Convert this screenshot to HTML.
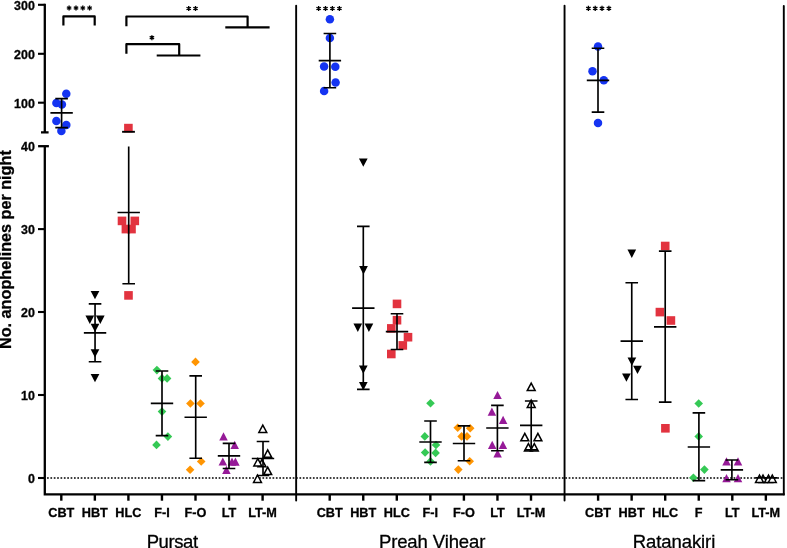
<!DOCTYPE html>
<html><head><meta charset="utf-8"><style>
html,body{margin:0;padding:0;background:#fff;}
body{width:787px;height:548px;overflow:hidden;}
svg{display:block;}
</style></head><body>
<svg width="787" height="548" viewBox="0 0 787 548">
<rect width="787" height="548" fill="#fff"/>
<path d="M44.8 3.8 V132.4 M41 132.4 H48.6" stroke="#000" stroke-width="2.3" fill="none"/>
<path d="M38 4.8 H44.8" stroke="#000" stroke-width="2.1"/>
<path d="M38 53.8 H44.8" stroke="#000" stroke-width="2.1"/>
<path d="M38 102.7 H44.8" stroke="#000" stroke-width="2.1"/>
<path d="M44.8 146.2 V494.4 H784.7" stroke="#000" stroke-width="2.3" fill="none" stroke-linejoin="miter"/>
<path d="M38.1 146.2 H48.9" stroke="#000" stroke-width="2.3"/>
<path d="M38 229.1 H44.8" stroke="#000" stroke-width="2.1"/>
<path d="M38 312.0 H44.8" stroke="#000" stroke-width="2.1"/>
<path d="M38 395.0 H44.8" stroke="#000" stroke-width="2.1"/>
<path d="M38 478.0 H44.8" stroke="#000" stroke-width="2.1"/>
<path d="M783.8 6 V494.4" stroke="#000" stroke-width="1.9" stroke-linecap="round"/>
<path d="M296.15 5.8 V500.6" stroke="#000" stroke-width="1.9" stroke-linecap="round"/>
<path d="M564.55 5.8 V500.6" stroke="#000" stroke-width="1.9" stroke-linecap="round"/>
<path d="M61.3 494.4 V500.7" stroke="#000" stroke-width="2.4"/>
<path d="M94.85 494.4 V500.7" stroke="#000" stroke-width="2.4"/>
<path d="M128.4 494.4 V500.7" stroke="#000" stroke-width="2.4"/>
<path d="M161.95 494.4 V500.7" stroke="#000" stroke-width="2.4"/>
<path d="M195.5 494.4 V500.7" stroke="#000" stroke-width="2.4"/>
<path d="M229.05 494.4 V500.7" stroke="#000" stroke-width="2.4"/>
<path d="M262.6 494.4 V500.7" stroke="#000" stroke-width="2.4"/>
<path d="M329.7 494.4 V500.7" stroke="#000" stroke-width="2.4"/>
<path d="M363.25 494.4 V500.7" stroke="#000" stroke-width="2.4"/>
<path d="M396.8 494.4 V500.7" stroke="#000" stroke-width="2.4"/>
<path d="M430.35 494.4 V500.7" stroke="#000" stroke-width="2.4"/>
<path d="M463.9 494.4 V500.7" stroke="#000" stroke-width="2.4"/>
<path d="M497.45 494.4 V500.7" stroke="#000" stroke-width="2.4"/>
<path d="M531.0 494.4 V500.7" stroke="#000" stroke-width="2.4"/>
<path d="M598.1 494.4 V500.7" stroke="#000" stroke-width="2.4"/>
<path d="M631.65 494.4 V500.7" stroke="#000" stroke-width="2.4"/>
<path d="M665.2 494.4 V500.7" stroke="#000" stroke-width="2.4"/>
<path d="M698.75 494.4 V500.7" stroke="#000" stroke-width="2.4"/>
<path d="M732.3 494.4 V500.7" stroke="#000" stroke-width="2.4"/>
<path d="M765.85 494.4 V500.7" stroke="#000" stroke-width="2.4"/>
<path d="M47.05 478 H782.5" stroke="#000" stroke-width="1.7" stroke-dasharray="1.7 1.6653"/>
<defs><filter id="gf" x="0" y="0" width="1" height="1"><feOffset dx="0" dy="0"/></filter></defs><g filter="url(#gf)" stroke="#000" stroke-width="0.3">
<text x="34.8" y="9.75" font-family="Liberation Sans, sans-serif" font-weight="bold" font-size="12.4" text-anchor="end">300</text>
<text x="34.8" y="58.75" font-family="Liberation Sans, sans-serif" font-weight="bold" font-size="12.4" text-anchor="end">200</text>
<text x="34.8" y="107.65" font-family="Liberation Sans, sans-serif" font-weight="bold" font-size="12.4" text-anchor="end">100</text>
<text x="34.8" y="151.15" font-family="Liberation Sans, sans-serif" font-weight="bold" font-size="12.4" text-anchor="end">40</text>
<text x="34.8" y="234.05" font-family="Liberation Sans, sans-serif" font-weight="bold" font-size="12.4" text-anchor="end">30</text>
<text x="34.8" y="316.95" font-family="Liberation Sans, sans-serif" font-weight="bold" font-size="12.4" text-anchor="end">20</text>
<text x="34.8" y="399.95" font-family="Liberation Sans, sans-serif" font-weight="bold" font-size="12.4" text-anchor="end">10</text>
<text x="34.8" y="482.95" font-family="Liberation Sans, sans-serif" font-weight="bold" font-size="12.4" text-anchor="end">0</text>
<text x="61.3" y="516.6" font-family="Liberation Sans, sans-serif" font-weight="bold" font-size="12.7" text-anchor="middle">CBT</text>
<text x="94.85" y="516.6" font-family="Liberation Sans, sans-serif" font-weight="bold" font-size="12.7" text-anchor="middle">HBT</text>
<text x="128.4" y="516.6" font-family="Liberation Sans, sans-serif" font-weight="bold" font-size="12.7" text-anchor="middle">HLC</text>
<text x="161.95" y="516.6" font-family="Liberation Sans, sans-serif" font-weight="bold" font-size="12.7" text-anchor="middle">F-I</text>
<text x="195.5" y="516.6" font-family="Liberation Sans, sans-serif" font-weight="bold" font-size="12.7" text-anchor="middle">F-O</text>
<text x="229.05" y="516.6" font-family="Liberation Sans, sans-serif" font-weight="bold" font-size="12.7" text-anchor="middle">LT</text>
<text x="262.6" y="516.6" font-family="Liberation Sans, sans-serif" font-weight="bold" font-size="12.7" text-anchor="middle">LT-M</text>
<text x="329.7" y="516.6" font-family="Liberation Sans, sans-serif" font-weight="bold" font-size="12.7" text-anchor="middle">CBT</text>
<text x="363.25" y="516.6" font-family="Liberation Sans, sans-serif" font-weight="bold" font-size="12.7" text-anchor="middle">HBT</text>
<text x="396.8" y="516.6" font-family="Liberation Sans, sans-serif" font-weight="bold" font-size="12.7" text-anchor="middle">HLC</text>
<text x="430.35" y="516.6" font-family="Liberation Sans, sans-serif" font-weight="bold" font-size="12.7" text-anchor="middle">F-I</text>
<text x="463.9" y="516.6" font-family="Liberation Sans, sans-serif" font-weight="bold" font-size="12.7" text-anchor="middle">F-O</text>
<text x="497.45" y="516.6" font-family="Liberation Sans, sans-serif" font-weight="bold" font-size="12.7" text-anchor="middle">LT</text>
<text x="531.0" y="516.6" font-family="Liberation Sans, sans-serif" font-weight="bold" font-size="12.7" text-anchor="middle">LT-M</text>
<text x="598.1" y="516.6" font-family="Liberation Sans, sans-serif" font-weight="bold" font-size="12.7" text-anchor="middle">CBT</text>
<text x="631.65" y="516.6" font-family="Liberation Sans, sans-serif" font-weight="bold" font-size="12.7" text-anchor="middle">HBT</text>
<text x="665.2" y="516.6" font-family="Liberation Sans, sans-serif" font-weight="bold" font-size="12.7" text-anchor="middle">HLC</text>
<text x="698.75" y="516.6" font-family="Liberation Sans, sans-serif" font-weight="bold" font-size="12.7" text-anchor="middle">F</text>
<text x="732.3" y="516.6" font-family="Liberation Sans, sans-serif" font-weight="bold" font-size="12.7" text-anchor="middle">LT</text>
<text x="765.85" y="516.6" font-family="Liberation Sans, sans-serif" font-weight="bold" font-size="12.7" text-anchor="middle">LT-M</text>
<text x="146.7" y="548.3" font-family="Liberation Sans, sans-serif" font-size="18.5" textLength="51.4" lengthAdjust="spacing">Pursat</text>
<text x="378.9" y="548.3" font-family="Liberation Sans, sans-serif" font-size="18.5" textLength="106.5" lengthAdjust="spacing">Preah Vihear</text>
<text x="632.7" y="548.3" font-family="Liberation Sans, sans-serif" font-size="18.5" textLength="82.6" lengthAdjust="spacing">Ratanakiri</text>
<text transform="translate(11.4 249.6) rotate(-90)" font-family="Liberation Sans, sans-serif" font-weight="bold" font-size="16.2" text-anchor="middle">No. anophelines per night</text>
</g>
<circle cx="66.3" cy="93.7" r="4.25" fill="#1534f2"/>
<circle cx="56.4" cy="103" r="4.25" fill="#1534f2"/>
<circle cx="61.9" cy="104.6" r="4.25" fill="#1534f2"/>
<circle cx="56.4" cy="121" r="4.25" fill="#1534f2"/>
<circle cx="66.3" cy="124.9" r="4.25" fill="#1534f2"/>
<circle cx="61.4" cy="130.9" r="4.25" fill="#1534f2"/>
<path d="M90.65 290.90 H99.35 L95 299.20Z" fill="#000"/>
<path d="M85.45 315.60 H94.15 L89.8 323.90Z" fill="#000"/>
<path d="M95.95 315.60 H104.65 L100.3 323.90Z" fill="#000"/>
<path d="M90.65 323.80 H99.35 L95 332.10Z" fill="#000"/>
<path d="M90.65 349.30 H99.35 L95 357.60Z" fill="#000"/>
<path d="M90.65 373.90 H99.35 L95 382.20Z" fill="#000"/>
<rect x="124.10" y="123.80" width="8.6" height="8.6" fill="#e2333f"/>
<rect x="117.70" y="216.60" width="8.6" height="8.6" fill="#e2333f"/>
<rect x="130.50" y="216.60" width="8.6" height="8.6" fill="#e2333f"/>
<rect x="121.60" y="224.80" width="8.6" height="8.6" fill="#e2333f"/>
<rect x="127.20" y="224.80" width="8.6" height="8.6" fill="#e2333f"/>
<rect x="124.20" y="291.10" width="8.6" height="8.6" fill="#e2333f"/>
<path d="M156.9 365.80 L161.20 370.1 L156.9 374.40 L152.60 370.1Z" fill="#35c955"/>
<path d="M162 374.10 L166.30 378.4 L162 382.70 L157.70 378.4Z" fill="#35c955"/>
<path d="M167.1 374.10 L171.40 378.4 L167.1 382.70 L162.80 378.4Z" fill="#35c955"/>
<path d="M162 407.30 L166.30 411.6 L162 415.90 L157.70 411.6Z" fill="#35c955"/>
<path d="M167.9 432.30 L172.20 436.6 L167.9 440.90 L163.60 436.6Z" fill="#35c955"/>
<path d="M156.5 440.60 L160.80 444.9 L156.5 449.20 L152.20 444.9Z" fill="#35c955"/>
<path d="M195.5 357.60 L199.80 361.9 L195.5 366.20 L191.20 361.9Z" fill="#ff9502"/>
<path d="M190.4 399.20 L194.70 403.5 L190.4 407.80 L186.10 403.5Z" fill="#ff9502"/>
<path d="M200.5 399.20 L204.80 403.5 L200.5 407.80 L196.20 403.5Z" fill="#ff9502"/>
<path d="M201.2 457.20 L205.50 461.5 L201.2 465.80 L196.90 461.5Z" fill="#ff9502"/>
<path d="M190.1 465.40 L194.40 469.7 L190.1 474.00 L185.80 469.7Z" fill="#ff9502"/>
<path d="M223.5 432.30 L227.75 440.50 H219.25Z" fill="#961a98"/>
<path d="M234.7 440.80 L238.95 449.00 H230.45Z" fill="#961a98"/>
<path d="M222.8 457.40 L227.05 465.60 H218.55Z" fill="#961a98"/>
<path d="M232 457.50 L236.25 465.70 H227.75Z" fill="#961a98"/>
<path d="M235.4 457.50 L239.65 465.70 H231.15Z" fill="#961a98"/>
<path d="M226.4 465.80 L230.65 474.00 H222.15Z" fill="#961a98"/>
<path d="M262.8 425.10 L266.75 432.50 H258.85Z" fill="#fff" stroke="#000" stroke-width="1.5" stroke-linejoin="miter"/>
<path d="M267.7 449.90 L271.65 457.30 H263.75Z" fill="#fff" stroke="#000" stroke-width="1.5" stroke-linejoin="miter"/>
<path d="M262 459.40 L265.95 466.80 H258.05Z" fill="#fff" stroke="#000" stroke-width="1.5" stroke-linejoin="miter"/>
<path d="M257.8 458.60 L261.75 466.00 H253.85Z" fill="#fff" stroke="#000" stroke-width="1.5" stroke-linejoin="miter"/>
<path d="M267.7 467.20 L271.65 474.60 H263.75Z" fill="#fff" stroke="#000" stroke-width="1.5" stroke-linejoin="miter"/>
<path d="M257.5 475.00 L261.45 482.40 H253.55Z" fill="#fff" stroke="#000" stroke-width="1.5" stroke-linejoin="miter"/>
<circle cx="329.9" cy="19.2" r="4.25" fill="#1534f2"/>
<circle cx="329.9" cy="38" r="4.25" fill="#1534f2"/>
<circle cx="324.1" cy="66.4" r="4.25" fill="#1534f2"/>
<circle cx="335.3" cy="66.8" r="4.25" fill="#1534f2"/>
<circle cx="335.6" cy="82.5" r="4.25" fill="#1534f2"/>
<circle cx="324.1" cy="91" r="4.25" fill="#1534f2"/>
<path d="M358.95 158.50 H367.65 L363.3 166.80Z" fill="#000"/>
<path d="M359.15 266.10 H367.85 L363.5 274.40Z" fill="#000"/>
<path d="M353.45 323.60 H362.15 L357.8 331.90Z" fill="#000"/>
<path d="M364.55 323.60 H373.25 L368.9 331.90Z" fill="#000"/>
<path d="M358.95 365.50 H367.65 L363.3 373.80Z" fill="#000"/>
<path d="M358.95 381.90 H367.65 L363.3 390.20Z" fill="#000"/>
<rect x="392.70" y="299.60" width="8.6" height="8.6" fill="#e2333f"/>
<rect x="392.70" y="315.90" width="8.6" height="8.6" fill="#e2333f"/>
<rect x="387.00" y="324.10" width="8.6" height="8.6" fill="#e2333f"/>
<rect x="403.70" y="332.90" width="8.6" height="8.6" fill="#e2333f"/>
<rect x="398.50" y="341.10" width="8.6" height="8.6" fill="#e2333f"/>
<rect x="387.00" y="349.70" width="8.6" height="8.6" fill="#e2333f"/>
<path d="M430.5 398.90 L434.80 403.2 L430.5 407.50 L426.20 403.2Z" fill="#35c955"/>
<path d="M424.8 432.10 L429.10 436.4 L424.8 440.70 L420.50 436.4Z" fill="#35c955"/>
<path d="M436 440.70 L440.30 445 L436 449.30 L431.70 445Z" fill="#35c955"/>
<path d="M425.1 448.20 L429.40 452.5 L425.1 456.80 L420.80 452.5Z" fill="#35c955"/>
<path d="M435.6 448.60 L439.90 452.9 L435.6 457.20 L431.30 452.9Z" fill="#35c955"/>
<path d="M430.5 457.10 L434.80 461.4 L430.5 465.70 L426.20 461.4Z" fill="#35c955"/>
<path d="M457.7 423.50 L462.00 427.8 L457.7 432.10 L453.40 427.8Z" fill="#ff9502"/>
<path d="M470.2 424.00 L474.50 428.3 L470.2 432.60 L465.90 428.3Z" fill="#ff9502"/>
<path d="M461.6 432.10 L465.90 436.4 L461.6 440.70 L457.30 436.4Z" fill="#ff9502"/>
<path d="M467 432.10 L471.30 436.4 L467 440.70 L462.70 436.4Z" fill="#ff9502"/>
<path d="M469.7 457.00 L474.00 461.3 L469.7 465.60 L465.40 461.3Z" fill="#ff9502"/>
<path d="M458.3 465.30 L462.60 469.6 L458.3 473.90 L454.00 469.6Z" fill="#ff9502"/>
<path d="M497.5 390.90 L501.75 399.10 H493.25Z" fill="#961a98"/>
<path d="M491.9 407.50 L496.15 415.70 H487.65Z" fill="#961a98"/>
<path d="M503.1 415.80 L507.35 424.00 H498.85Z" fill="#961a98"/>
<path d="M492.2 440.70 L496.45 448.90 H487.95Z" fill="#961a98"/>
<path d="M502.9 440.70 L507.15 448.90 H498.65Z" fill="#961a98"/>
<path d="M497.6 449.20 L501.85 457.40 H493.35Z" fill="#961a98"/>
<path d="M531.2 383.20 L535.15 390.60 H527.25Z" fill="#fff" stroke="#000" stroke-width="1.5" stroke-linejoin="miter"/>
<path d="M531.2 400.10 L535.15 407.50 H527.25Z" fill="#fff" stroke="#000" stroke-width="1.5" stroke-linejoin="miter"/>
<path d="M524.8 433.40 L528.75 440.80 H520.85Z" fill="#fff" stroke="#000" stroke-width="1.5" stroke-linejoin="miter"/>
<path d="M537.9 433.40 L541.85 440.80 H533.95Z" fill="#fff" stroke="#000" stroke-width="1.5" stroke-linejoin="miter"/>
<path d="M528.4 443.60 L532.35 451.00 H524.45Z" fill="#fff" stroke="#000" stroke-width="1.5" stroke-linejoin="miter"/>
<path d="M534.3 443.60 L538.25 451.00 H530.35Z" fill="#fff" stroke="#000" stroke-width="1.5" stroke-linejoin="miter"/>
<circle cx="598" cy="46.5" r="4.25" fill="#1534f2"/>
<circle cx="592.5" cy="71.3" r="4.25" fill="#1534f2"/>
<circle cx="603.8" cy="80.3" r="4.25" fill="#1534f2"/>
<circle cx="598" cy="122.9" r="4.25" fill="#1534f2"/>
<path d="M627.45 249.60 H636.15 L631.8 257.90Z" fill="#000"/>
<path d="M627.55 357.50 H636.25 L631.9 365.80Z" fill="#000"/>
<path d="M633.15 365.80 H641.85 L637.5 374.10Z" fill="#000"/>
<path d="M622.05 373.50 H630.75 L626.4 381.80Z" fill="#000"/>
<rect x="660.90" y="241.70" width="8.6" height="8.6" fill="#e2333f"/>
<rect x="655.60" y="307.80" width="8.6" height="8.6" fill="#e2333f"/>
<rect x="666.60" y="316.20" width="8.6" height="8.6" fill="#e2333f"/>
<rect x="661.10" y="424.00" width="8.6" height="8.6" fill="#e2333f"/>
<path d="M698.7 399.20 L703.00 403.5 L698.7 407.80 L694.40 403.5Z" fill="#35c955"/>
<path d="M698.7 432.10 L703.00 436.4 L698.7 440.70 L694.40 436.4Z" fill="#35c955"/>
<path d="M704.4 465.30 L708.70 469.6 L704.4 473.90 L700.10 469.6Z" fill="#35c955"/>
<path d="M693.4 473.50 L697.70 477.8 L693.4 482.10 L689.10 477.8Z" fill="#35c955"/>
<path d="M726.5 457.20 L730.75 465.40 H722.25Z" fill="#961a98"/>
<path d="M738 457.20 L742.25 465.40 H733.75Z" fill="#961a98"/>
<path d="M726.5 474.10 L730.75 482.30 H722.25Z" fill="#961a98"/>
<path d="M738 474.10 L742.25 482.30 H733.75Z" fill="#961a98"/>
<path d="M763 475.00 L766.95 482.40 H759.05Z" fill="#fff" stroke="#000" stroke-width="1.5" stroke-linejoin="miter"/>
<path d="M768.5 475.00 L772.45 482.40 H764.55Z" fill="#fff" stroke="#000" stroke-width="1.5" stroke-linejoin="miter"/>
<path d="M759.5 475.00 L763.45 482.40 H755.55Z" fill="#fff" stroke="#000" stroke-width="1.5" stroke-linejoin="miter"/>
<path d="M772.3 475.00 L776.25 482.40 H768.35Z" fill="#fff" stroke="#000" stroke-width="1.5" stroke-linejoin="miter"/>
<path d="M61.6 98.6 V127.6 M50.40 112.8 H72.80 M55.30 127.6 H67.90 M55.30 98.6 H67.90" stroke="#000" stroke-width="1.65" fill="none"/>
<path d="M95.05 303.8 V361.7 M83.85 332.8 H106.25 M88.75 361.7 H101.35 M88.75 303.8 H101.35" stroke="#000" stroke-width="1.65" fill="none"/>
<path d="M122.1 131.8 H134.9" stroke="#000" stroke-width="1.9"/>
<path d="M128.7 146.4 V283.7 M117.50 212.5 H139.90 M122.40 283.7 H135.00" stroke="#000" stroke-width="1.65" fill="none"/>
<path d="M162 371 V435.6 M150.80 403.3 H173.20 M155.70 435.6 H168.30 M155.70 371 H168.30" stroke="#000" stroke-width="1.65" fill="none"/>
<path d="M195.7 375.9 V458.2 M184.50 417.2 H206.90 M189.40 458.2 H202.00 M189.40 375.9 H202.00" stroke="#000" stroke-width="1.65" fill="none"/>
<path d="M229 443.3 V468.5 M217.80 455.8 H240.20 M222.70 468.5 H235.30 M222.70 443.3 H235.30" stroke="#000" stroke-width="1.65" fill="none"/>
<path d="M263 441.5 V475.5 M251.80 458.5 H274.20 M256.70 475.5 H269.30 M256.70 441.5 H269.30" stroke="#000" stroke-width="1.65" fill="none"/>
<path d="M329.9 33.5 V87.7 M318.70 60.6 H341.10 M323.60 87.7 H336.20 M323.60 33.5 H336.20" stroke="#000" stroke-width="1.65" fill="none"/>
<path d="M363.3 226.4 V389.4 M352.10 308.1 H374.50 M357.00 389.4 H369.60 M357.00 226.4 H369.60" stroke="#000" stroke-width="1.65" fill="none"/>
<path d="M397 313.7 V349.5 M385.80 331.6 H408.20 M390.70 349.5 H403.30 M390.70 313.7 H403.30" stroke="#000" stroke-width="1.65" fill="none"/>
<path d="M430.5 421 V462.4 M419.30 442 H441.70 M424.20 462.4 H436.80 M424.20 421 H436.80" stroke="#000" stroke-width="1.65" fill="none"/>
<path d="M464 425.9 V460.7 M452.80 443.5 H475.20 M457.70 460.7 H470.30 M457.70 425.9 H470.30" stroke="#000" stroke-width="1.65" fill="none"/>
<path d="M497.4 405.4 V450.7 M486.20 428 H508.60 M491.10 450.7 H503.70 M491.10 405.4 H503.70" stroke="#000" stroke-width="1.65" fill="none"/>
<path d="M531.2 401 V449.8 M520.00 425.4 H542.40 M524.90 449.8 H537.50 M524.90 401 H537.50" stroke="#000" stroke-width="1.65" fill="none"/>
<path d="M598 48.2 V112.1 M586.80 80.4 H609.20 M591.70 112.1 H604.30 M591.70 48.2 H604.30" stroke="#000" stroke-width="1.65" fill="none"/>
<path d="M631.75 282.7 V399.5 M620.55 341.1 H642.95 M625.45 399.5 H638.05 M625.45 282.7 H638.05" stroke="#000" stroke-width="1.65" fill="none"/>
<path d="M665.2 251.1 V402.1 M654.00 326.8 H676.40 M658.90 402.1 H671.50 M658.90 251.1 H671.50" stroke="#000" stroke-width="1.65" fill="none"/>
<path d="M698.9 412.8 V480.6 M687.70 447.0 H710.10 M692.60 480.6 H705.20 M692.60 412.8 H705.20" stroke="#000" stroke-width="1.65" fill="none"/>
<path d="M731.9 460.0 V479.7 M720.70 469.9 H743.10 M725.60 479.7 H738.20 M725.60 460.0 H738.20" stroke="#000" stroke-width="1.65" fill="none"/>
<path d="M766.4 477.9 V477.9 M755.20 477.9 H777.60 M760.10 477.9 H772.70 M760.10 477.9 H772.70" stroke="#000" stroke-width="1.65" fill="none"/>
<path d="M63.4 25.6 V16.4 H94.7 V25.6" stroke="#000" stroke-width="2.2" fill="none" stroke-linejoin="round"/>
<path d="M69.10 5.45 L69.10 10.55 M66.89 6.73 L71.31 9.28 M71.31 6.73 L66.89 9.28 " stroke="#000" stroke-width="1.35" stroke-linecap="butt"/>
<path d="M76.00 5.45 L76.00 10.55 M73.79 6.73 L78.21 9.28 M78.21 6.73 L73.79 9.28 " stroke="#000" stroke-width="1.35" stroke-linecap="butt"/>
<path d="M82.80 5.45 L82.80 10.55 M80.59 6.73 L85.01 9.28 M85.01 6.73 L80.59 9.28 " stroke="#000" stroke-width="1.35" stroke-linecap="butt"/>
<path d="M89.60 5.45 L89.60 10.55 M87.39 6.73 L91.81 9.28 M91.81 6.73 L87.39 9.28 " stroke="#000" stroke-width="1.35" stroke-linecap="butt"/>
<path d="M126.4 26.3 V16.5 H247.6 V27.4 M225.3 27.4 H269.6" stroke="#000" stroke-width="2.2" fill="none" stroke-linejoin="round"/>
<path d="M188.70 5.95 L188.70 11.05 M186.49 7.23 L190.91 9.78 M190.91 7.23 L186.49 9.78 " stroke="#000" stroke-width="1.35" stroke-linecap="butt"/>
<path d="M195.50 5.95 L195.50 11.05 M193.29 7.23 L197.71 9.78 M197.71 7.23 L193.29 9.78 " stroke="#000" stroke-width="1.35" stroke-linecap="butt"/>
<path d="M126.4 53.8 V44.2 H179.2 V55.5 M156.7 55.5 H200.4" stroke="#000" stroke-width="2.2" fill="none" stroke-linejoin="round"/>
<path d="M151.90 35.15 L151.90 40.25 M149.69 36.43 L154.11 38.98 M154.11 36.43 L149.69 38.98 " stroke="#000" stroke-width="1.35" stroke-linecap="butt"/>
<path d="M318.60 5.95 L318.60 11.05 M316.39 7.23 L320.81 9.78 M320.81 7.23 L316.39 9.78 " stroke="#000" stroke-width="1.35" stroke-linecap="butt"/>
<path d="M325.50 5.95 L325.50 11.05 M323.29 7.23 L327.71 9.78 M327.71 7.23 L323.29 9.78 " stroke="#000" stroke-width="1.35" stroke-linecap="butt"/>
<path d="M332.40 5.95 L332.40 11.05 M330.19 7.23 L334.61 9.78 M334.61 7.23 L330.19 9.78 " stroke="#000" stroke-width="1.35" stroke-linecap="butt"/>
<path d="M339.40 5.95 L339.40 11.05 M337.19 7.23 L341.61 9.78 M341.61 7.23 L337.19 9.78 " stroke="#000" stroke-width="1.35" stroke-linecap="butt"/>
<path d="M588.40 5.85 L588.40 10.95 M586.19 7.13 L590.61 9.68 M590.61 7.13 L586.19 9.68 " stroke="#000" stroke-width="1.35" stroke-linecap="butt"/>
<path d="M595.20 5.85 L595.20 10.95 M592.99 7.13 L597.41 9.68 M597.41 7.13 L592.99 9.68 " stroke="#000" stroke-width="1.35" stroke-linecap="butt"/>
<path d="M602.00 5.85 L602.00 10.95 M599.79 7.13 L604.21 9.68 M604.21 7.13 L599.79 9.68 " stroke="#000" stroke-width="1.35" stroke-linecap="butt"/>
<path d="M608.90 5.85 L608.90 10.95 M606.69 7.13 L611.11 9.68 M611.11 7.13 L606.69 9.68 " stroke="#000" stroke-width="1.35" stroke-linecap="butt"/>
</svg>
</body></html>
